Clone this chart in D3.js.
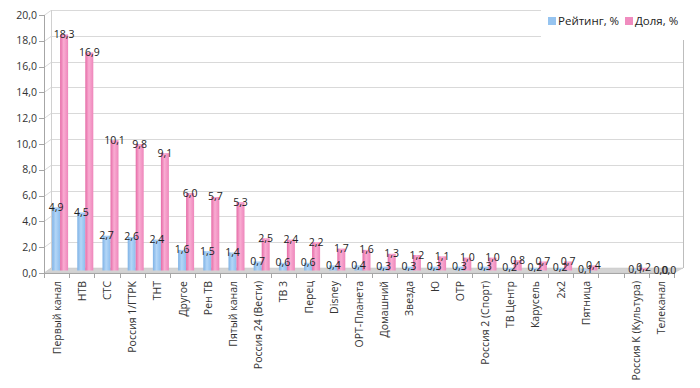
<!DOCTYPE html>
<html><head><meta charset="utf-8">
<script src="https://cdn.jsdelivr.net/npm/d3@7/dist/d3.min.js"></script>
<style>body{margin:0;background:#fff}svg{display:block;font-family:"Open Sans",sans-serif}</style>
</head><body><svg id="c" width="700" height="388"></svg>
<script>
const categories = ["Первый канал","НТВ","СТС","Россия 1/ГТРК","ТНТ","Другое","Рен ТВ","Пятый канал","Россия 24 (Вести)","ТВ 3","Перец","Disney","ОРТ-Планета","Домашний","Звезда","Ю","ОТР","Россия 2 (Спорт)","ТВ Центр","Карусель","2x2","Пятница","","Россия К (Культура)","Телеканал"];
const rating = [4.9,4.5,2.7,2.6,2.4,1.6,1.5,1.4,0.7,0.6,0.6,0.4,0.4,0.3,0.3,0.3,0.3,0.3,0.2,0.2,0.2,0.1,null,0.1,0.0];
const share  = [18.3,16.9,10.1,9.8,9.1,6.0,5.7,5.3,2.5,2.4,2.2,1.7,1.6,1.3,1.2,1.1,1.0,1.0,0.8,0.7,0.7,0.4,null,0.2,0.0];
const seriesNames = ["Рейтинг, %","Доля, %"];
const yTicks = [0,2,4,6,8,10,12,14,16,18,20];

const svg = d3.select("#c");
const defs = svg.append("defs");
function grad(id, stops){
  const g = defs.append("linearGradient").attr("id",id).attr("x1","0").attr("x2","1").attr("y1","0").attr("y2","0");
  stops.forEach(s=>g.append("stop").attr("offset",s[0]).attr("stop-color",s[1]));
}
grad("gBlue",[[0,"#7eb2e6"],[0.45,"#b3d6f7"],[1,"#8dbeee"]]);
grad("gPink",[[0,"#e56aa6"],[0.45,"#f9acd2"],[1,"#ee86bb"]]);

const DX = 7, DY = -5;
const y = d3.scaleLinear().domain([0,20]).range([273,15]);
const x = d3.scaleBand().domain(d3.range(categories.length)).range([44,674]).paddingInner(0).paddingOuter(0);
const x1 = d3.scaleBand().domain([0,1]).range([0,x.bandwidth()]).paddingInner(0).paddingOuter(0.575);
const fmt = v => d3.format(".1f")(v).replace(".",",");

// back wall gridlines
const grid = svg.append("g");
yTicks.forEach(t=>{
  const yy = Math.round(y(t))+0.5;
  grid.append("polyline")
    .attr("points",`44,${yy} ${44+DX},${yy+DY} 683,${yy+DY}`)
    .attr("fill","none").attr("stroke","#d9d9d9").attr("stroke-width",1);
});
grid.append("line").attr("x1",51.5).attr("x2",51.5).attr("y1",y(20)+DY).attr("y2",y(0)+DY).attr("stroke","#d0d0d0");
grid.append("line").attr("x1",683.5).attr("x2",683.5).attr("y1",y(20)+DY).attr("y2",y(0)+DY).attr("stroke","#bdbdbd");
grid.append("polygon")
  .attr("points",`44,${y(0)} ${44+DX},${y(0)+DY} 683,${y(0)+DY} ${674},${y(0)}`)
  .attr("fill","#d3d3d3").attr("stroke","#c4c4c4").attr("stroke-width",0.5);

// bars
const bars = svg.append("g");
const BX = DX/2, BY = DY/2;
[rating, share].forEach((vals, si)=>{
  vals.forEach((v,i)=>{
    if (v===null) return;
    const bx = x(i)+x1(si)+BX;
    const top = y(v)+BY, base = y(0)+BY;
    bars.append("rect").attr("x",bx).attr("y",top).attr("width",x1.bandwidth()).attr("height",Math.max(0,base-top))
      .attr("fill", si===0 ? "url(#gBlue)" : "url(#gPink)");
  });
});

// axes
const ax = svg.append("g").attr("stroke","#a6a6a6").attr("fill","none");
ax.append("line").attr("x1",44.5).attr("x2",44.5).attr("y1",y(20)).attr("y2",y(0));
yTicks.forEach(t=>{
  const yy = Math.round(y(t))+0.5;
  ax.append("line").attr("x1",39).attr("x2",44.5).attr("y1",yy).attr("y2",yy);
});
ax.append("line").attr("x1",44).attr("x2",674).attr("y1",y(0)+0.5).attr("y2",y(0)+0.5);
d3.range(categories.length+1).forEach(i=>{
  const xx = Math.round(44 + i*x.step())+0.5;
  ax.append("line").attr("x1",xx).attr("x2",xx).attr("y1",y(0)).attr("y2",y(0)+5);
});

// y tick labels
svg.append("g").selectAll("text").data(yTicks).join("text")
  .attr("x",37).attr("y",d=>y(d)+3.5).attr("text-anchor","end")
  .attr("font-size",10.5).attr("fill","#333").text(d=>fmt(d));

// x labels
svg.append("g").selectAll("text").data(categories).join("text")
  .attr("transform",(d,i)=>`translate(${x(i)+x.bandwidth()/2+4},281) rotate(-90)`)
  .attr("text-anchor","end").attr("font-size",10.5).attr("fill","#333").text(d=>d);

// data labels
const lab = svg.append("g").attr("font-size",10.5).attr("fill","#222").attr("text-anchor","middle");
[rating, share].forEach((vals, si)=>{
  vals.forEach((v,i)=>{
    if (v===null) return;
    const cx = x(i)+x1(si)+BX+x1.bandwidth()/2;
    lab.append("text").attr("x",cx).attr("y",y(v)+BY+3.5).text(fmt(v));
  });
});

// legend
const lg = svg.append("g");
lg.append("rect").attr("x",541).attr("y",0).attr("width",159).attr("height",40).attr("fill","#fff");
const lx = [548,625];
seriesNames.forEach((n,i)=>{
  lg.append("rect").attr("x",lx[i]).attr("y",17).attr("width",8).attr("height",8).attr("fill",i===0?"#96c4f0":"#f08cbf");
  lg.append("text").attr("x",lx[i]+10).attr("y",25).attr("font-size",11.5).attr("fill","#222").text(n);
});
</script></body></html>
